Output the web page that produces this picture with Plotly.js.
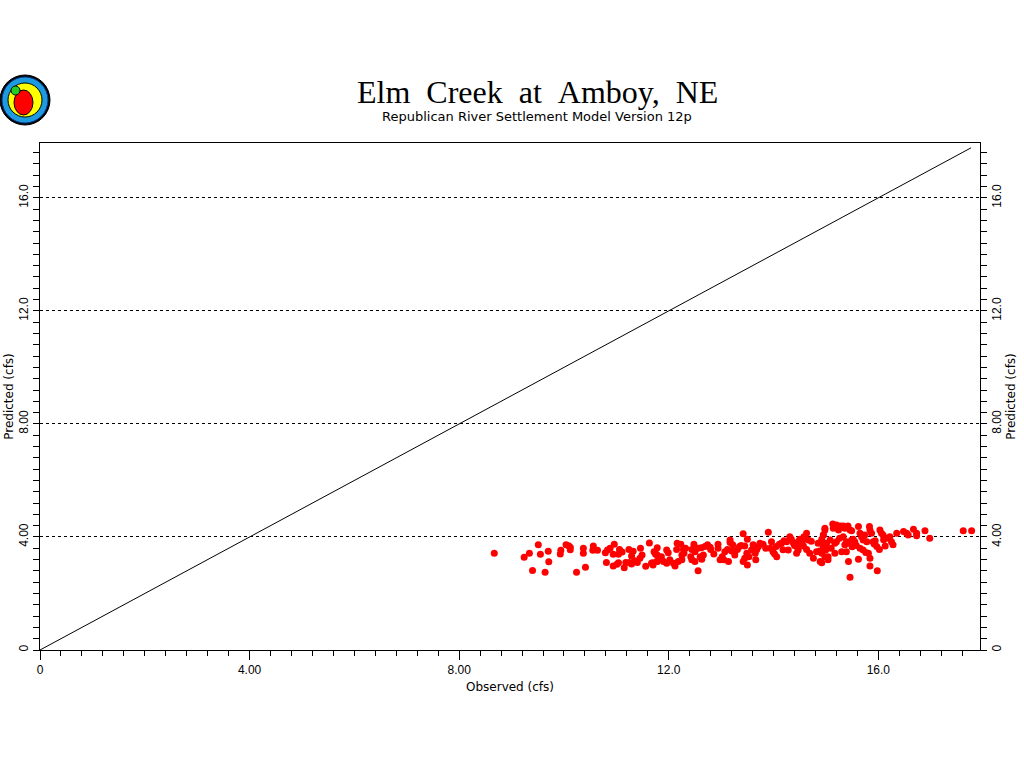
<!DOCTYPE html>
<html>
<head>
<meta charset="utf-8">
<script src="https://cdn.plot.ly/plotly-3.0.1.min.js"></script>
<style>html,body{margin:0;padding:0;background:#fff;}#chart{width:1024px;height:768px;}</style>
</head>
<body>
<div id="chart"></div>
<script>
// ---- data ----
const titleText = "Elm\u2002Creek\u2002at\u2002Amboy,\u2002NE";
const subtitleText = "Republican River Settlement Model Version 12p";
const xTitle = "Observed (cfs)";
const yTitle = "Predicted (cfs)";
const tickVals = [0, 4, 8, 12, 16];
const tickLabels = ["0", "4.00", "8.00", "12.0", "16.0"];
const axisMax = 17.94;
const lineX = [0, 17.77];
const lineY = [0, 17.77];
const obsX = [
 8.67,9.24,9.34,9.51,9.40,9.55,9.64,9.70,9.71,9.93,9.94,10.04,10.09,10.12,10.12,10.24,10.37,10.37,10.41,10.56,
 10.55,10.64,10.81,10.79,10.83,10.88,10.96,10.94,11.04,11.06,11.11,10.94,11.01,11.04,11.15,11.18,11.25,11.29,11.35,11.40,
 11.24,11.32,11.29,11.46,11.49,11.45,11.56,11.63,11.67,11.70,11.69,11.78,11.72,11.75,11.78,11.74,11.78,11.77,11.83,11.90,
 11.96,12.02,12.09,12.12,12.18,12.25,11.86,11.96,11.99,12.16,12.23,12.15,12.28,12.32,12.25,12.29,12.42,12.44,12.48,12.50,
 12.44,12.50,12.56,12.56,12.60,12.63,12.66,12.69,12.74,12.79,12.80,12.94,12.94,12.98,13.05,13.07,13.12,13.14,13.17,13.17,
 13.22,13.26,13.26,13.31,13.35,13.42,13.50,13.45,13.49,13.45,13.42,13.50,13.53,13.58,13.61,13.65,13.68,13.71,13.74,13.66,
 13.80,13.90,13.96,13.94,13.99,14.06,14.05,14.11,14.15,14.20,14.25,14.28,14.31,14.34,14.38,14.44,14.47,14.44,14.47,14.50,
 14.54,14.57,14.58,14.63,14.66,14.63,14.69,14.76,14.82,14.85,14.89,14.92,14.95,14.98,15.01,15.04,14.95,14.98,14.92,14.95,
 14.92,14.98,14.92,15.04,15.01,15.08,15.13,15.14,15.20,15.27,15.24,15.33,15.36,15.42,15.46,15.49,15.17,15.17,15.20,15.30,
 15.33,15.36,15.39,15.42,15.39,15.43,15.46,15.49,15.52,15.55,15.62,15.62,15.65,15.68,15.71,15.65,15.71,15.74,15.78,15.81,
 15.83,15.84,15.84,15.84,15.87,15.90,15.94,15.97,15.98,16.02,16.03,16.06,16.09,16.13,16.16,16.22,16.25,16.28,16.35,16.48,
 16.54,16.57,16.67,16.73,16.73,16.89,16.98,17.62,17.78,
 13.20,13.38,13.85,14.02,14.40,14.72,14.88,15.10,15.26,15.58,15.76,16.10,12.86,12.62,13.02,14.18,14.60,15.00,15.50,15.92
];
const predY = [
 3.42,3.28,3.42,3.72,2.81,3.39,2.75,3.49,3.12,3.40,3.53,3.72,3.69,3.64,3.55,2.75,3.60,3.42,2.93,3.68,
 3.53,3.53,3.10,3.44,3.54,3.60,3.74,3.39,3.39,3.56,3.47,2.97,3.03,3.09,2.91,3.10,3.10,3.04,3.16,3.10,
 3.56,3.49,3.33,3.60,3.36,3.25,2.96,3.79,3.07,3.01,3.09,3.13,3.48,3.39,3.62,3.44,3.36,3.13,3.19,3.13,
 3.07,3.19,3.07,2.97,3.13,3.19,3.30,3.54,3.44,3.78,3.74,3.56,3.56,3.60,3.36,3.42,3.30,3.56,3.74,3.48,
 3.19,3.13,2.80,3.60,3.30,3.21,3.36,3.66,3.72,3.64,3.56,3.74,3.60,3.19,3.19,3.48,3.56,3.13,3.80,3.89,
 3.72,3.48,3.36,3.56,3.66,4.11,3.92,3.68,3.42,3.25,3.13,3.01,3.30,3.54,3.72,3.42,3.56,3.66,3.78,3.19,
 3.74,4.17,3.83,3.60,3.48,3.30,3.66,3.74,3.78,3.87,3.83,3.54,4.01,3.92,3.78,3.42,3.54,3.66,3.83,3.92,
 3.78,3.68,4.01,4.13,3.89,3.56,3.42,3.25,3.48,3.78,3.13,3.92,4.07,4.25,3.66,3.30,4.07,4.31,3.83,3.66,
 3.42,3.30,3.09,3.19,3.78,3.89,4.46,4.31,4.42,4.39,4.25,4.39,4.31,4.39,4.25,4.22,3.42,3.78,3.83,3.48,
 4.01,3.72,3.83,3.78,3.48,3.13,2.57,3.89,3.92,3.83,3.21,4.37,4.13,4.01,3.89,3.60,3.54,4.07,3.83,3.42,
 4.37,4.25,3.25,2.97,4.13,3.83,3.87,3.66,2.80,3.56,4.25,4.13,4.07,3.68,3.95,4.01,3.83,3.72,4.13,4.19,
 4.13,4.07,4.27,4.13,4.04,4.22,3.95,4.22,4.22,
 3.50,3.70,3.60,3.40,3.70,3.85,3.50,3.60,3.95,3.70,3.45,3.90,3.40,3.62,3.30,3.55,3.95,3.55,3.65,3.75
];

// ---- helpers for logo placement (paper coords from pixels) ----
const L = 40, R = 980, T = 143, B = 650;
const px = p => (p - L) / (R - L);
const py = p => (B - p) / (B - T);
function circ(x0, y0, x1, y1, fill, line) {
  return {type: 'circle', xref: 'paper', yref: 'paper', x0: px(x0), x1: px(x1), y0: py(y1), y1: py(y0),
    fillcolor: fill, line: {color: line || fill, width: 1}};
}

const font = {family: "DejaVu Sans, Verdana, sans-serif", size: 12, color: "#000"};
const tickFont = {family: "Liberation Sans, Arial, sans-serif", size: 12, color: "#000"};

const traces = [
  {x: obsX, y: predY, type: 'scatter', mode: 'markers', xaxis: 'x', yaxis: 'y',
   marker: {color: '#ff0000', size: 7}, hoverinfo: 'skip', showlegend: false},
  {x: lineX, y: lineY, type: 'scatter', mode: 'lines', xaxis: 'x', yaxis: 'y2',
   line: {color: '#000', width: 1}, hoverinfo: 'skip', showlegend: false}
];

const yCommon = {
  range: [0, axisMax], tickmode: 'array', tickvals: tickVals, ticktext: tickLabels,
  ticks: 'outside', ticklen: 6, tickcolor: '#000', tickwidth: 1, tickangle: -90,
  showline: true, linecolor: '#000', linewidth: 1, zeroline: false,
  minor: {dtick: 0.4, tick0: 0, ticks: 'outside', ticklen: 6, tickcolor: '#000', showgrid: false},
  tickfont: tickFont, fixedrange: true
};

const layout = {
  width: 1024, height: 768,
  margin: {l: L, r: 1024 - R, t: T, b: 768 - B, pad: 0},
  paper_bgcolor: '#fff', plot_bgcolor: '#fff',
  showlegend: false,
  xaxis: {
    range: [0, axisMax], tickmode: 'array', tickvals: tickVals, ticktext: tickLabels,
    ticks: 'outside', ticklen: 9, tickcolor: '#000', tickwidth: 1,
    showline: true, mirror: true, linecolor: '#000', linewidth: 1, zeroline: false, showgrid: false,
    minor: {dtick: 0.4, tick0: 0, ticks: 'outside', ticklen: 5, tickcolor: '#000', showgrid: false},
    tickfont: tickFont, title: {text: xTitle, font: font, standoff: 6}, fixedrange: true
  },
  yaxis: Object.assign({}, yCommon, {
    side: 'left', showgrid: true, gridcolor: '#000', gridwidth: 1, griddash: '3px,3px',
    title: {text: yTitle, font: font, standoff: 1}
  }),
  yaxis2: Object.assign({}, yCommon, {
    side: 'right', overlaying: 'y', showgrid: false,
    title: {text: yTitle, font: font, standoff: 1}
  }),
  annotations: [
    {text: titleText, xref: 'paper', yref: 'paper', x: px(537), y: py(92), xanchor: 'center', yanchor: 'middle',
     showarrow: false, font: {family: "Liberation Serif, DejaVu Serif, serif", size: 32, color: '#000'}},
    {text: subtitleText, xref: 'paper', yref: 'paper', x: px(537), y: py(117), xanchor: 'center', yanchor: 'middle',
     showarrow: false, font: {family: "DejaVu Sans, Verdana, sans-serif", size: 13, color: '#000'}}
  ],
  shapes: [
    circ(0, 75, 50, 125, '#000000'),
    circ(2, 77, 48, 123, '#1e9be0', '#0a3a8a'),
    circ(8, 83, 42, 117, '#ffff00', '#000'),
    circ(14, 90, 33, 115, '#ff0000', '#000'),
    circ(11, 86, 20, 95, '#22cc22', '#000')
  ]
};

Plotly.newPlot('chart', traces, layout, {staticPlot: true, displayModeBar: false});
</script>
</body>
</html>
